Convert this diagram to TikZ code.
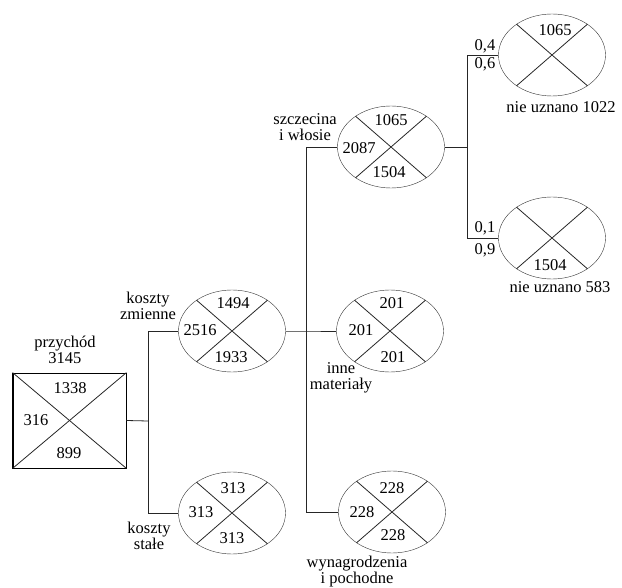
\documentclass[tikz,border=0pt]{standalone}
\usepackage{fontspec}
\setmainfont{Liberation Serif}
\usetikzlibrary{shapes.geometric,calc}
\tikzset{
  oval/.style={draw=black!80, ellipse, inner sep=0pt, minimum width=107pt, minimum height=82pt},
  num/.style={inner sep=1pt},
  lbl/.style={align=center, inner sep=1pt},
  wire/.style={draw=black!85, line width=0.8pt}
}
\newcommand{\crossit}[1]{\draw[wire] (#1.41) -- (#1.221) (#1.139) -- (#1.319);}
\begin{document}
\begin{tikzpicture}[x=1pt,y=-1pt,font=\fontsize{16.5}{16}\selectfont]
\useasboundingbox (0,0) rectangle (622,588);

% przychod
\node[draw, line width=0.8pt, minimum width=113pt, minimum height=95pt, inner sep=0pt] (box) at (69.5,420.5) {};
\draw[line width=1.6pt] (box.north west) -- (box.south west) -- (box.south east);
\draw[wire] (box.north west) -- (box.south east) (box.north east) -- (box.south west);
\node[lbl] (przychod) at (65,350) {przychód\\3145};
\node[num] (box1) at (70,388) {1338};
\node[num] (box2) at (36,420) {316};
\node[num] (box3) at (69,453) {899};

% koszty
\node[oval] (kz) at (232,331) {};
\crossit{kz}
\node[num] (kz1) at (233,303) {1494};
\node[num] (kz2) at (200,330) {2516};
\node[num] (kz3) at (231,357) {1933};
\node[lbl] (kzl) at (148,306) {koszty\\zmienne};

\node[oval] (ks) at (232,513) {};
\crossit{ks}
\node[num] (ks1) at (233,488) {313};
\node[num] (ks2) at (201,512) {313};
\node[num] (ks3) at (232,538) {313};
\node[lbl] (ksl) at (149,536) {koszty\\stałe};

\coordinate (j1) at (148,421);
\draw[wire] (box.east) -- (j1);
\draw[wire] (j1) |- (kz.west);
\draw[wire] (j1) |- (ks.west);

% zmienne
\node[oval] (sz) at (391,147) {};
\crossit{sz}
\node[num] (sz1) at (391,120) {1065};
\node[num] (sz2) at (359,148) {2087};
\node[num] (sz3) at (389,172) {1504};
\node[lbl] (szl) at (305,127) {szczecina\\i włosie};

\node[oval] (im) at (390,331) {};
\crossit{im}
\node[num] (im1) at (392,303) {201};
\node[num] (im2) at (361,330) {201};
\node[num] (im3) at (393,357) {201};
\node[lbl] (iml) at (341,378) {inne\\materiały};

\node[oval] (wy) at (392,512) {};
\crossit{wy}
\node[num] (wy1) at (392,488) {228};
\node[num] (wy2) at (362,512) {228};
\node[num] (wy3) at (393,535) {228};
\node[lbl] (wyl) at (357,572) {wynagrodzenia\\i pochodne};

\coordinate (j2) at (306,331);
\draw[wire] (kz.east) -- (j2) -- (im.west);
\draw[wire] (j2) |- (sz.west);
\draw[wire] (j2) |- (wy.west);

% nie uznano
\node[oval] (nu1) at (552,55) {};
\crossit{nu1}
\node[num] (nu1a) at (555,30) {1065};
\node[lbl] (nu1l) at (561,107) {nie uznano 1022};
\node[num] (p04) at (485,46) {0,4};
\node[num] (p06) at (485,64) {0,6};

\node[oval] (nu2) at (552,238) {};
\crossit{nu2}
\node[num] (nu2a) at (550,265) {1504};
\node[lbl] (nu2l) at (560,287) {nie uznano 583};
\node[num] (p01) at (485,228) {0,1};
\node[num] (p09) at (485,250) {0,9};

\coordinate (j3) at (467,147);
\draw[wire] (sz.east) -- (j3);
\draw[wire] (j3) |- (nu1.west);
\draw[wire] (j3) |- (nu2.west);
\end{tikzpicture}
\end{document}
